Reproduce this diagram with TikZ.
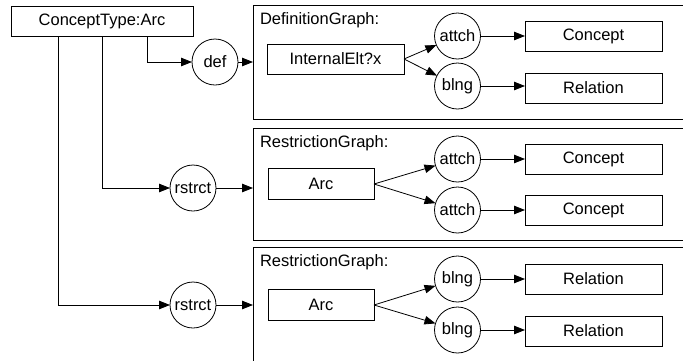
\documentclass[tikz,border=0pt]{standalone}
\usepackage{fontspec}
\setmainfont{Liberation Sans}
\usetikzlibrary{arrows.meta}
\begin{document}
\begin{tikzpicture}[x=1pt,y=-1pt,
  font=\fontsize{16.5}{19}\selectfont,
  every node/.style={inner sep=0pt, outer sep=0pt},
  box/.style={draw, line width=0.8pt, minimum height=30pt},
  rel/.style={draw, circle, line width=0.8pt, minimum size=46pt},
  frame/.style={draw, line width=0.9pt, anchor=north west, minimum width=447pt},
  arr/.style={line width=0.8pt, -{Triangle[length=11pt,width=8.5pt]}},
  lbl/.style={anchor=base west},
]
\clip (0,0) rectangle (683,360);

% concept type and its relations
\node[box, minimum width=182pt] (ct) at (102,21) {ConceptType:Arc};
\node[rel] (def) at (215,62) {def};
\node[rel] (r1) at (193,188) {rstrct};
\node[rel] (r2) at (193,305) {rstrct};

% graph frames
\node[frame, minimum height=114pt] (f1) at (253,5) {};
\node[frame, minimum height=112pt] (f2) at (253,128) {};
\node[frame, minimum height=130pt] (f3) at (253,247) {};
\node[lbl] (l1) at (260,24) {DefinitionGraph:};
\node[lbl] (l2) at (260,147) {RestrictionGraph:};
\node[lbl] (l3) at (260,266) {RestrictionGraph:};

% definition graph
\node[box, minimum width=137pt] (ie) at (335.5,59) {InternalElt?x};
\node[rel] (a1) at (457.5,36) {attch};
\node[rel] (b1) at (457.5,86) {blng};
\node[box, minimum width=137pt] (c1) at (593.5,36) {Concept};
\node[box, minimum width=137pt] (rl1) at (593.5,88) {Relation};

% first restriction graph
\node[box, minimum width=106pt, minimum height=31pt] (arc2) at (321,184) {Arc};
\node[rel] (a2) at (457.5,159) {attch};
\node[rel] (a3) at (457.5,210) {attch};
\node[box, minimum width=137pt] (c2) at (593.5,159) {Concept};
\node[box, minimum width=137pt] (c3) at (593.5,210) {Concept};

% second restriction graph
\node[box, minimum width=106pt, minimum height=31pt] (arc3) at (321,305) {Arc};
\node[rel] (b2) at (457.5,279) {blng};
\node[rel] (b3) at (457.5,330) {blng};
\node[box, minimum width=137pt] (rl2) at (593.5,279) {Relation};
\node[box, minimum width=137pt] (rl3) at (593.5,331) {Relation};

% connectors
\draw[arr] ([xshift=45pt]ct.south) |- (def);
\draw[arr] (ct.south) |- (r1);
\draw[arr] ([xshift=-44pt]ct.south) |- (r2);
\draw[arr] (def) -- (def -| f1.west);
\draw[arr] (r1) -- (r1 -| f2.west);
\draw[arr] (r2) -- (r2 -| f3.west);

\draw[arr] (ie.east) -- (a1);
\draw[arr] (ie.east) -- (b1);
\draw[arr] (a1) -- (c1);
\draw[arr] (b1) -- (b1 -| rl1.west);

\draw[arr] (arc2.east) -- (a2);
\draw[arr] (arc2.east) -- (a3);
\draw[arr] (a2) -- (c2);
\draw[arr] (a3) -- (c3);

\draw[arr] (arc3.east) -- (b2);
\draw[arr] (arc3.east) -- (b3);
\draw[arr] (b2) -- (rl2);
\draw[arr] (b3) -- (b3 -| rl3.west);
\end{tikzpicture}
\end{document}
